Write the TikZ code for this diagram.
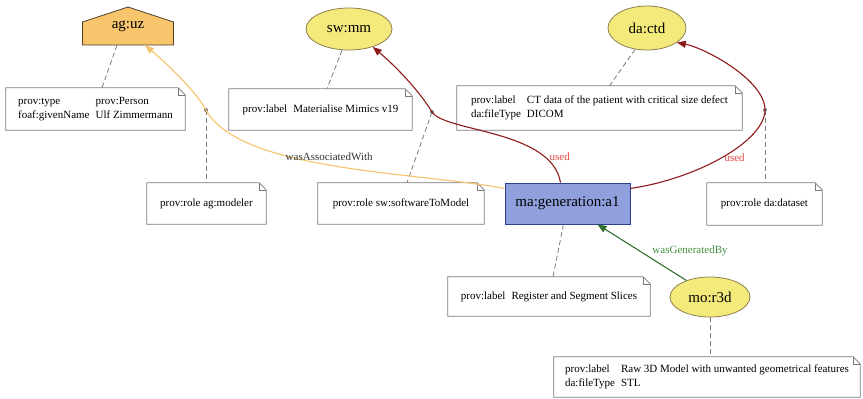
\documentclass[tikz,border=0pt]{standalone}
\usepackage{fontspec}
\setmainfont{Liberation Serif}
\usepackage{tikz}
\usetikzlibrary{arrows.meta,shapes.geometric}

\definecolor{agentfill}{HTML}{F8C46C}
\definecolor{agentline}{HTML}{4D4030}
\definecolor{entfill}{HTML}{F4E97B}
\definecolor{entline}{HTML}{8C8150}
\definecolor{actfill}{HTML}{8FA0DC}
\definecolor{actline}{HTML}{2E3F8F}
\definecolor{assoc}{HTML}{F7C36A}
\definecolor{usedline}{HTML}{8E1B1B}
\definecolor{usedtext}{HTML}{E0453F}
\definecolor{genline}{HTML}{2F6F2F}
\definecolor{gentext}{HTML}{3F8F3F}
\definecolor{notegray}{HTML}{7A7A7A}

\newcommand{\provnodefont}{\fontsize{15}{17}\selectfont}
\newcommand{\provnotefont}{\fontsize{11}{14}\selectfont}

\tikzset{
	agent/.style={rectangle, font=\provnodefont, minimum width=91pt,
		minimum height=38pt, inner sep=0pt},
	agenthouse/.style={draw=agentline, fill=agentfill, line width=0.8pt},
	entity/.style={ellipse, draw=entline, fill=entfill, font=\provnodefont,
		inner sep=0pt, line width=0.8pt},
	activity/.style={rectangle, draw=actline, fill=actfill, font=\provnodefont,
		minimum width=125pt, minimum height=41pt, line width=0.8pt},
	provnote/.style={rectangle, fill=white, font=\provnotefont, inner sep=0pt},
	rolept/.style={circle, fill=notegray, inner sep=0pt, minimum size=4pt},
	link/.style={draw=notegray, dash pattern=on 5pt off 3pt, line width=0.8pt},
	rel/.style={line width=1.1pt, ->, >={Triangle[length=9pt,width=7pt]}},
	rellabel/.style={font=\provnotefont, inner sep=1pt},
}

\begin{document}
\begin{tikzpicture}[x=1pt,y=-1pt]
	\useasboundingbox (0,0) rectangle (863,399);
	% agent house
	\filldraw[agenthouse] (82.5,45) -- (82.5,22) -- (128,7) -- (173.5,22)
		-- (173.5,45) -- cycle;
	% nodes
	\node[agent] (uz) at (128,26) {\raisebox{-4pt}{ag:uz}};
	\node[entity, minimum width=86pt, minimum height=42pt] (mm) at (349,29) {sw:mm};
	\node[entity, minimum width=78pt, minimum height=44pt] (ctd) at (647,28) {da:ctd};
	\node[activity] (gen) at (567.5,203.5) {ma:generation:a1};
	\node[entity, minimum width=80pt, minimum height=40pt] (r3d) at (710,297) {mo:r3d};
	% notes
	\node[provnote, minimum width=179pt, minimum height=42pt] (agnote) at (95.5,109)
		{\begin{tabular}{@{}l@{\hspace{6pt}}l@{}}prov:type & prov:Person\\ foaf:givenName & Ulf Zimmermann\end{tabular}};
	\node[provnote, minimum width=183pt, minimum height=41pt] (swnote) at (320.5,109.5)
		{prov:label\hspace{6pt}Materialise Mimics v19};
	\node[provnote, minimum width=285pt, minimum height=44pt] (dacnote) at (599.5,108)
		{\begin{tabular}{@{}l@{\hspace{6pt}}l@{}}prov:label & CT data of the patient with critical size defect\\ da:fileType & DICOM\end{tabular}};
	\node[provnote, minimum width=119pt, minimum height=41pt] (rolemod) at (206.5,203.5) {prov:role ag:modeler};
	\node[provnote, minimum width=166pt, minimum height=41pt] (rolesw) at (401,203.5) {prov:role sw:softwareToModel};
	\node[provnote, minimum width=115pt, minimum height=42pt] (roleda) at (764.5,204) {prov:role da:dataset};
	\node[provnote, minimum width=202pt, minimum height=39pt] (regnote) at (549,296.5)
		{prov:label\hspace{6pt}Register and Segment Slices};
	\node[provnote, minimum width=306pt, minimum height=40pt] (r3dnote) at (707,377)
		{\begin{tabular}{@{}l@{\hspace{6pt}}l@{}}prov:label & Raw 3D Model with unwanted geometrical features\\ da:fileType & STL\end{tabular}};
	% role points
	\node[rolept] (p1) at (206,110) {};
	\node[rolept] (p2) at (432,112) {};
	\node[rolept] (p3) at (765,110) {};
	%
	\foreach \nb in {agnote,swnote,dacnote,rolemod,rolesw,roleda,regnote,r3dnote}{
		\draw[notegray, line width=0.8pt] (\nb.south west) -- (\nb.north west)
			-- ([xshift=-7pt]\nb.north east) -- ([yshift=-7pt]\nb.north east)
			-- (\nb.south east) -- cycle;
		\draw[notegray, line width=0.5pt] ([xshift=-7pt]\nb.north east) |- ([yshift=-7pt]\nb.north east);
	}
	% dashed links to notes
	\path[link]
	([xshift=-11pt]uz.south) edge ([xshift=6.5pt]agnote.north)
	(mm.252) edge ([xshift=6.5pt]swnote.north)
	(ctd.241) edge ([xshift=10pt]dacnote.north)
	([xshift=-4pt]gen.south) edge ([xshift=4pt]regnote.north)
	(r3d.south) edge (r3d.south |- r3dnote.north)
	(p1.center) edge (p1 |- rolemod.north)
	(p2.center) edge ([xshift=6pt]rolesw.north)
	(p3.center) edge (p3 |- roleda.north);
	% relations
	\draw[rel, draw=assoc, color=assoc] ([yshift=15pt]gen.west)
		.. controls (420,172) and (240,172) .. (p1.center)
		node[rellabel, pos=0.52, above=3pt, text=black!80] {wasAssociatedWith}
		.. controls (195,90) and (165,62) .. ([xshift=17pt]uz.south);
	\draw[rel, draw=usedline, color=usedline] ([xshift=-7pt]gen.north)
		.. controls (552,130) and (445,132) .. (p2.center)
		node[rellabel, pos=0.2, anchor=west, xshift=3pt, text=usedtext] {used}
		.. controls (422,95) and (400,70) .. (mm.-37);
	\draw[rel, draw=usedline, color=usedline] ([yshift=15pt]gen.east)
		.. controls (700,178) and (765,140) .. (p3.center)
		node[rellabel, pos=0.55, anchor=north west, xshift=-8pt, text=usedtext] {used}
		.. controls (765,80) and (705,48) .. (ctd.-26);
	\draw[rel, draw=genline, color=genline] (r3d.145) -- ([xshift=30pt]gen.south)
		node[rellabel, pos=0.5, anchor=west, xshift=9pt, yshift=2pt, text=gentext] {wasGeneratedBy};
\end{tikzpicture}
\end{document}
